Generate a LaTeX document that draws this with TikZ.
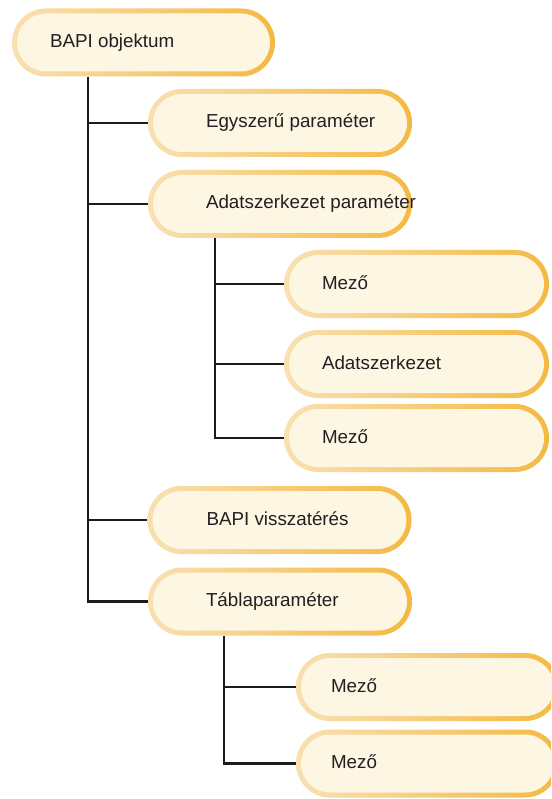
\documentclass[tikz,border=0pt]{standalone}
\usepackage{fontspec}
\setmainfont{Liberation Sans}
\definecolor{capL}{HTML}{F9E0B2}
\definecolor{capR}{HTML}{F4B942}
\definecolor{capfill}{HTML}{FDF6E3}
\definecolor{lineclr}{HTML}{1E1A1B}
\definecolor{txtclr}{HTML}{231F20}
\tikzset{
  capsule/.style={rectangle, rounded corners=34pt, left color=capL, right color=capR,
    minimum height=68pt, minimum width=#1, inner sep=0pt,
    path picture={\fill[capfill, rounded corners=29pt]
      ([shift={(5pt,5pt)}]path picture bounding box.south west) rectangle
      ([shift={(-5pt,-5pt)}]path picture bounding box.north east);}},
  capsule/.default=264pt,
  lbl/.style={anchor=base west, inner sep=0pt, text=txtclr,
    font=\fontsize{18.8}{22}\selectfont},
  conn/.style={draw=lineclr, line width=2.5pt}
}
\begin{document}
\begin{tikzpicture}[x=1pt,y=-1pt]
\useasboundingbox (0,0) rectangle (551,799);
\clip (0,0) rectangle (551,799);
\fill[white] (0,0) rectangle (551,799);

\node[capsule=263pt] (n1) at (143.5,42.5) {};
\node[capsule] (n2) at (280,123) {};
\node[capsule] (n3) at (280,204) {};
\node[capsule=265pt] (n4) at (416.5,284) {};
\node[capsule=265pt] (n5) at (416.5,364) {};
\node[capsule=265pt] (n6) at (416.5,438) {};
\node[capsule] (n7) at (279.5,520) {};
\node[capsule] (n8) at (280,601.5) {};
\node[capsule=263pt] (n9) at (427.5,687) {};
\node[capsule=263pt] (n10) at (427.5,763.5) {};

\node[lbl] (t1) at ([xshift=38pt,yshift=-5pt]n1.west) {BAPI objektum};
\node[lbl] (t2) at ([xshift=58pt,yshift=-5pt]n2.west) {Egyszerű paraméter};
\node[lbl] (t3) at ([xshift=58pt,yshift=-5pt]n3.west) {Adatszerkezet paraméter};
\node[lbl] (t4) at ([xshift=38pt,yshift=-5pt]n4.west) {Mező};
\node[lbl] (t5) at ([xshift=38pt,yshift=-5pt]n5.west) {Adatszerkezet};
\node[lbl] (t6) at ([xshift=38pt,yshift=-5pt]n6.west) {Mező};
\node[lbl] (t7) at ([xshift=59pt,yshift=-5pt]n7.west) {BAPI visszatérés};
\node[lbl] (t8) at ([xshift=58pt,yshift=-5pt]n8.west) {Táblaparaméter};
\node[lbl] (t9) at ([xshift=35pt,yshift=-5pt]n9.west) {Mező};
\node[lbl] (t10) at ([xshift=35pt,yshift=-5pt]n10.west) {Mező};

\coordinate (r1) at ([xshift=76pt]n1.south west);
\draw[conn] (r1) |- (n2.west);
\draw[conn] (r1) |- (n3.west);
\draw[conn] (r1) |- (n7.west);
\draw[conn] (r1) |- (n8.west);

\coordinate (r3) at ([xshift=67pt]n3.south west);
\draw[conn] (r3) |- (n4.west);
\draw[conn] (r3) |- (n5.west);
\draw[conn] (r3) |- (n6.west);

\coordinate (r8) at ([xshift=76pt]n8.south west);
\draw[conn] (r8) |- (n9.west);
\draw[conn] (r8) |- (n10.west);
\end{tikzpicture}
\end{document}
